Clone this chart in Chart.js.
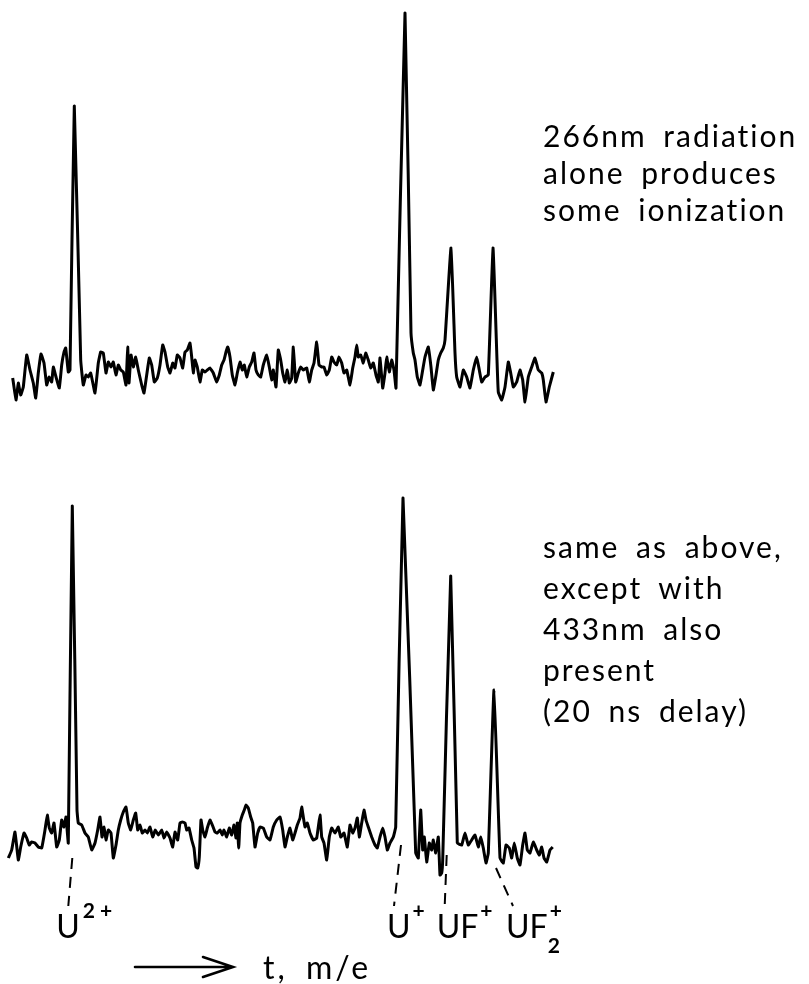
<!DOCTYPE html>
<html>
<head>
<meta charset="utf-8">
<script src="https://cdn.jsdelivr.net/npm/chart.js@4.4.1/dist/chart.umd.min.js"></script>
<style>
  body { margin: 0; background: #fff; }
  #wrap { position: relative; width: 809px; height: 984px; }
  .note { position: absolute; left: 543px; font-family: Lato, sans-serif; font-size: 30px; color: #000; letter-spacing: 2px; word-spacing: 7px; white-space: nowrap; }
</style>
</head>
<body>
<div id="wrap">
  <canvas id="c" width="809" height="984"></canvas>
  <div class="note" style="top:117px; line-height:37px;">266nm radiation<br>alone produces<br>some ionization</div>
  <div class="note" style="top:526px; line-height:41px;">same as above,<br>except with<br>433nm also<br>present<br>(20 ns delay)</div>
</div>
<script>
// time-of-flight channel (x) and detector signal (arb. units)
const topTime = [12.7,16,18.3,20.7,23.3,26.7,30,33.3,35.7,38.3,41,44,46.7,49,51.7,53.3,56,59.3,61.7,64,65.7,68.3,70,74.3,80.7,83.3,86,88.3,90.7,95,98.3,100.7,103.3,106,108.3,111,113.3,116,118.3,120.7,123.3,126,127.7,129,131,133.3,135.7,138.3,141.7,144,146.7,149.3,151.7,154.3,157.3,160,162.7,165,167.7,170,172.7,175,177.3,180,182.7,185,187.3,190,191.7,193.3,195,197.3,200,202.3,205,207.3,210,213.3,216.7,219.3,221.7,224,226,227.7,230,232.3,235,237.3,240,242.3,244.3,246.7,249.3,251.7,254,256,258.3,260.7,263.3,266.7,269.3,271.7,273.3,276,278.3,280.7,282.7,285,287.3,289.3,291.7,293.3,295.7,298.3,300.7,303.3,306.7,309.3,311.7,314,316.7,319,321.7,324,326.7,329.3,331.7,334,336.7,339,341.7,344,346.7,350,352.7,355,356.7,358.3,360.7,363.3,365.7,368.3,370.7,373.3,376,378.3,380,382.7,385,386.7,389.3,391.7,394,396,405,411,413.3,415,417.3,420,422.7,425,428.3,431,433.3,436,438.3,440.7,443.3,445,451,455,456.7,460,463.3,466.7,470,473.3,476.7,479.3,481.7,485,488.3,493,497,498.3,501.7,505,508.3,510.7,513.3,516.7,520,522.7,525,528.3,531.7,535,538.3,541.7,543.3,546,549.3,553.3];
const topSignal = [-3,-25,-8,-20,-12,20,5,-8,-23,2,21,12,-10,-2,-7,8,-2,-13,10,23,27,3,5,269,15,-10,0,-2,2,-18,12,23,22,2,13,8,13,0,10,5,3,-10,28,-8,20,8,18,5,-10,-18,0,17,10,-7,-3,10,30,23,8,2,12,7,20,17,7,23,25,32,18,2,15,8,-7,5,3,5,7,2,-7,0,10,15,23,28,18,0,-10,2,13,5,10,-2,8,13,22,5,0,-2,10,20,8,-5,5,-12,25,15,2,-7,5,-8,-3,28,-7,2,8,5,7,-7,5,12,33,10,8,8,0,5,18,13,10,18,12,2,5,-10,7,18,30,18,20,12,22,15,7,12,0,-7,17,-13,2,18,3,15,5,-13,362,42,22,15,-2,-10,5,18,28,8,-15,0,15,22,27,35,127,22,-2,-12,5,-2,-13,5,18,5,-7,-2,0,127,15,-17,-25,-12,13,2,-12,-7,5,-5,-27,-2,8,17,5,2,-5,-27,-12,3];

const bottomTime = [8.3,11.7,15,18.3,20.7,24,26.7,29.3,31.7,35,38.3,41.7,45,47.3,49.3,51.7,54,56.7,59.3,61.7,64,66,68.3,72.3,77,78.3,81.7,85,88.3,91.7,95,97.7,100,102,104,106,108.3,111,113.3,116,118.3,120.7,123.3,126,128.3,130.7,133.3,135.7,137.7,140,142.3,145,147.3,150,152.7,155.3,158.3,161.7,164,166.7,170,172.7,175,177.7,180,182.3,185,186.7,189,191.7,194,196,197.7,199.3,201,202.7,205,207.3,210,212.3,215,217.3,220,222.3,224,226.7,229.3,231.7,234,236,237.3,238.7,240,242.3,244.3,246,248.3,250.7,252.7,255,257.7,260,263.3,266.7,270,273.3,276.7,280,282.7,285,287.3,290,292.7,295,297.3,300,301.7,303.3,305,307.3,310,313.3,316.7,320,321.7,324,326.7,329.3,331.7,335,338.3,340.7,344,347.3,350,352.7,355,357.3,359.3,361.7,364,366,368.3,371.7,375,377.3,380,382.7,385,387.3,390,393.3,395.7,403,415.7,418.3,420.7,422.7,424.3,426.7,429.3,431.7,433.3,435.7,438.3,440,441.7,442.7,450.7,457.3,461.7,465,468.3,471.7,475,478.3,480.7,483.3,486,488.3,494,500,503.3,506,509.3,511.7,514.3,517.3,520,522.7,525,527.3,530,533.3,536.7,539.3,541.7,544,546.7,550,552.7];
const bottomSignal = [-8,0,18,-10,3,17,12,5,8,7,3,2,20,35,22,17,27,3,10,30,23,33,7,344,40,27,25,17,13,0,7,20,33,13,23,10,20,17,-8,5,20,30,38,43,27,20,30,37,20,25,17,20,17,23,13,20,15,20,12,18,12,3,18,10,27,28,27,20,22,10,2,-17,-18,-7,30,20,13,22,30,25,18,17,20,15,20,13,22,15,25,12,27,2,27,35,40,45,42,33,27,3,17,23,22,13,10,23,30,33,20,3,13,22,10,17,25,32,43,33,23,27,17,10,12,35,13,7,-10,13,22,17,23,13,17,3,25,17,22,32,13,27,40,30,23,13,5,2,13,22,13,0,7,13,23,352,-3,-8,40,0,13,-12,7,0,10,-3,13,-25,-23,-10,274,7,5,17,5,10,15,3,13,2,-13,-3,160,-8,-13,5,2,-8,7,-8,-15,5,17,0,-3,8,0,-5,3,-8,-12,0,3];

// ion assignments below the lower trace
const ionNames = ["U", "U", "UF", "UF"];
const ionSup = ["2+", "+", "+", "+"];
const ionSub = ["", "", "", "2"];
const ionTime = [72.3, 403, 450.7, 494];

const toPoints = (xs, ys) => xs.map((x, i) => ({ x: x, y: ys[i] }));

// dashed leaders, ion labels and the time arrow
const annotations = {
  id: "annotations",
  afterDraw(chart) {
    const ctx = chart.ctx;
    const xs = chart.scales.x;
    const leanTop = [0, -2, -4, 2];
    const leanBottom = [-4, -9, -6, 19];
    const leadTop = [858, 845, 855, 868];
    const labelLeft = [-16, -16, -14, 12];
    ctx.save();
    ctx.strokeStyle = "#000";
    ctx.fillStyle = "#000";
    ctx.lineWidth = 2;
    ctx.setLineDash([11, 8]);
    ionTime.forEach((t, i) => {
      const px = xs.getPixelForValue(t);
      ctx.beginPath();
      ctx.moveTo(px + leanTop[i], leadTop[i]);
      ctx.lineTo(px + leanBottom[i], 906);
      ctx.stroke();
    });
    ctx.setLineDash([]);
    ionTime.forEach((t, i) => {
      const px = xs.getPixelForValue(t) + labelLeft[i];
      ctx.font = "32px Lato, sans-serif";
      ctx.textBaseline = "alphabetic";
      ctx.letterSpacing = "0px";
      ctx.fillText(ionNames[i], px, 938);
      const w = ctx.measureText(ionNames[i]).width;
      ctx.font = "bold 21px Lato, sans-serif";
      if (ionSub[i]) ctx.fillText(ionSub[i], px + w, 953);
      ctx.letterSpacing = "5px";
      ctx.fillText(ionSup[i], px + w + (ionSup[i] === "2+" ? 3 : 2), 918);
    });
    // arrow
    ctx.lineWidth = 2.6;
    ctx.lineCap = "round";
    ctx.beginPath();
    ctx.moveTo(135, 967);
    ctx.lineTo(232, 967);
    ctx.moveTo(203, 957);
    ctx.lineTo(233, 967);
    ctx.lineTo(203, 977);
    ctx.stroke();
    ctx.font = "32px Lato, sans-serif";
    ctx.letterSpacing = "3px";
    ctx.fillText("t,", 263, 979);
    ctx.fillText("m/e", 306, 979);
    ctx.restore();
  }
};

new Chart(document.getElementById("c").getContext("2d"), {
  type: "line",
  data: {
    datasets: [
      { data: toPoints(topTime, topSignal), yAxisID: "yTop" },
      { data: toPoints(bottomTime, bottomSignal), yAxisID: "yBottom" }
    ]
  },
  options: {
    responsive: false,
    animation: false,
    layout: { padding: 0 },
    elements: {
      point: { radius: 0 },
      line: { borderColor: "#000", borderWidth: 3, tension: 0.1, borderJoinStyle: "round" }
    },
    scales: {
      x: { type: "linear", min: 0, max: 809, display: false },
      yTop: { min: -609, max: 375, display: false },
      yBottom: { min: -134, max: 850, display: false }
    },
    plugins: { legend: { display: false }, tooltip: { enabled: false } }
  },
  plugins: [annotations]
});
</script>
</body>
</html>
